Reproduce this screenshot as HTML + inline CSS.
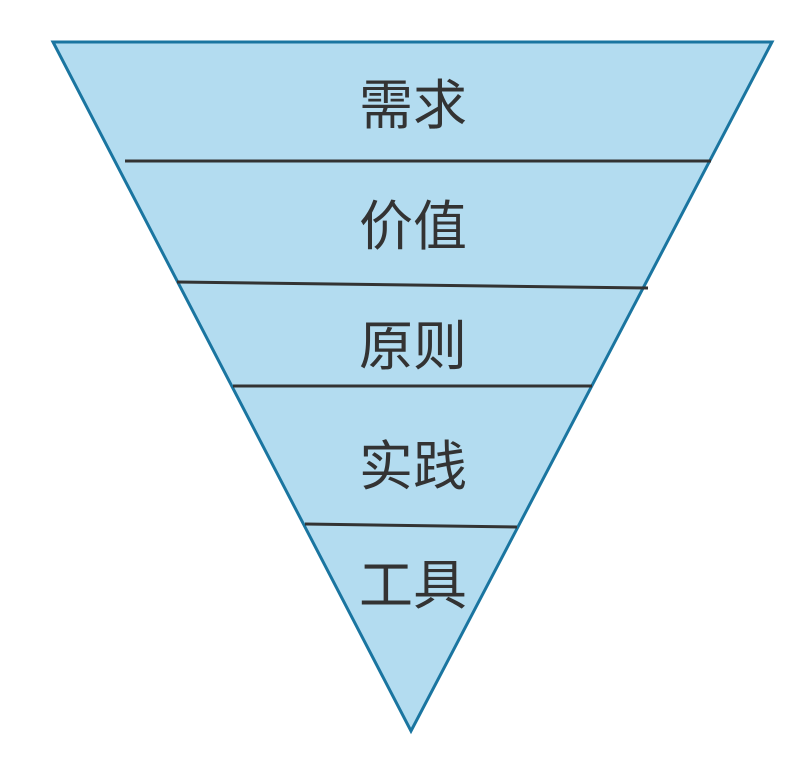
<!DOCTYPE html>
<html><head><meta charset="utf-8"><style>
html,body{margin:0;padding:0;background:#fff;width:808px;height:762px;overflow:hidden}
svg{display:block}
text{font-family:"Liberation Sans","Noto Sans CJK SC",sans-serif;font-size:54px;fill:#333;text-anchor:middle}
</style></head><body>
<svg width="808" height="762" viewBox="0 0 808 762">
<polygon points="53,42 772,42 411,731" fill="#b3dcf0" stroke="#1a75a0" stroke-width="3"/>
<g stroke="#333" stroke-width="3">
<line x1="125" y1="161" x2="711" y2="161"/>
<line x1="177" y1="282" x2="648" y2="288"/>
<line x1="233" y1="386" x2="592" y2="386"/>
<line x1="305" y1="524" x2="517" y2="527"/>
</g>
<text x="413" y="124">需求</text>
<text x="413" y="245">价值</text>
<text x="413" y="365">原则</text>
<text x="413" y="485">实践</text>
<text x="413" y="604">工具</text>
</svg>
</body></html>
